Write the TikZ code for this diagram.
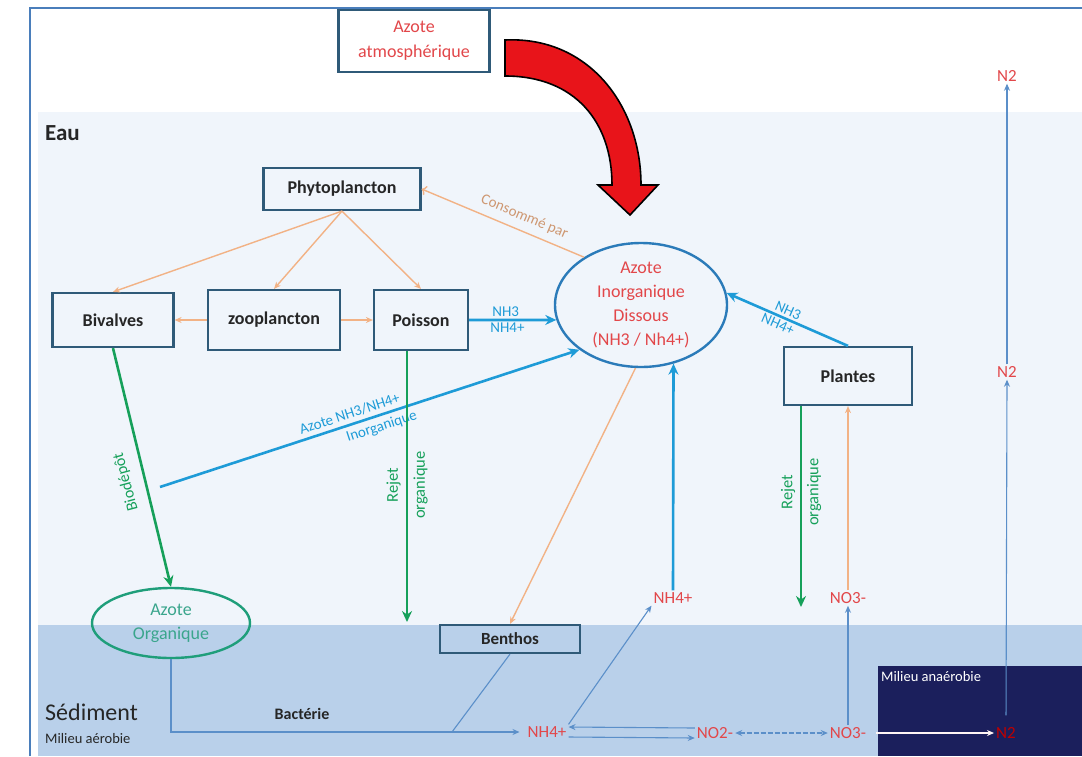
\documentclass[tikz,border=0pt]{standalone}
\usepackage{fontspec}
\setmainfont{Carlito}
\usetikzlibrary{arrows.meta,shapes.geometric}

\definecolor{frameblue}{HTML}{4A7EBB}
\definecolor{water}{HTML}{F0F5FB}
\definecolor{sediment}{HTML}{B9D0EA}
\definecolor{navy}{HTML}{1B1F5C}
\definecolor{boxline}{HTML}{2F5A78}
\definecolor{ntext}{HTML}{E2474A}
\definecolor{feed}{HTML}{F2B285}
\definecolor{ammonia}{HTML}{1E9BD7}
\definecolor{ring}{HTML}{2B7BB9}
\definecolor{organic}{HTML}{16A05A}
\definecolor{orgoval}{HTML}{1F9E7A}
\definecolor{orgtext}{HTML}{3AA58C}
\definecolor{thinblue}{HTML}{5B8FC9}
\definecolor{darktext}{HTML}{262626}
\definecolor{arrowred}{HTML}{E8141A}

\begin{document}
\begin{tikzpicture}[x=1pt,y=-1pt,
  box/.style={draw=boxline, line width=2.2pt, inner sep=2pt, text=darktext,
    font=\fontsize{18}{22}\selectfont\bfseries},
  ion/.style={text=ntext, font=\fontsize{17}{20}\selectfont, inner sep=2pt},
  lbl/.style={font=\fontsize{15}{18}\selectfont, inner sep=1pt},
  feedflow/.style={draw=feed, line width=1.4pt, -{Stealth[length=7pt,width=6pt]}},
  nhflow/.style={draw=ammonia, line width=2.6pt, -{Stealth[length=11pt,width=10pt]}},
  orgflow/.style={draw=organic, line width=2.6pt, -{Stealth[length=11pt,width=10pt]}},
  sedflow/.style={draw=thinblue, line width=1.1pt, -{Stealth[length=7pt,width=6pt]}},
]
\useasboundingbox (0,0) rectangle (1082,756);
\fill[white] (0,0) rectangle (1082,756);

% water column, sediment layer and anaerobic zone
\fill[water] (38,112) rectangle (1082,625);
\fill[sediment] (38,625) rectangle (1082,756);
\fill[navy] (878,666) rectangle (1082,756);
\draw[frameblue, line width=1.5pt] (30,756) -- (30,8) -- (1082,8);

% zone titles
\node[anchor=base west, inner sep=0pt, text=darktext, font=\fontsize{23}{26}\selectfont\bfseries] (eau) at (45,140) {Eau};
\node[anchor=base west, inner sep=0pt, text=darktext, font=\fontsize{24}{28}\selectfont] (sed) at (45,720) {Sédiment};
\node[anchor=base west, inner sep=0pt, text=darktext, font=\fontsize{14.5}{17}\selectfont] (aer) at (45,743) {Milieu aérobie};
\node[anchor=west, inner sep=0pt, text=white, font=\fontsize{14.5}{17}\selectfont] (anaer) at (881,677) {Milieu anaérobie};

% atmospheric input
\node[box, minimum width=151pt, minimum height=62pt, text=ntext, align=center,
  font=\fontsize{18}{25}\selectfont] (atm) at (414,41) {Azote\\atmosphérique};
\fill[arrowred, draw=black, line width=1.6pt, line join=miter]
  (505,40) .. controls (588,36) and (641,105) .. (641,185)
  -- (658,185) -- (630,215) -- (598,185) -- (612,185)
  .. controls (612,122) and (575,76) .. (505,76) -- cycle;

% organisms
\node[box, minimum width=157pt, minimum height=42pt] (phyto) at (342,189) {Phytoplancton};
\node[box, minimum width=121pt, minimum height=54pt] (biv) at (113,320) {Bivalves};
\node[box, minimum width=132pt, minimum height=60pt] (zoo) at (274,320) {zooplancton};
\node[box, minimum width=94pt, minimum height=60pt] (poisson) at (421,320) {Poisson};
\node[box, minimum width=128pt, minimum height=58pt] (plantes) at (848,376) {Plantes};
\node[box, minimum width=140pt, minimum height=28pt, font=\fontsize{17}{20}\selectfont\bfseries] (benthos) at (510,639) {Benthos};

% nitrogen pools
\node[ellipse, draw=ring, line width=2.4pt, minimum width=172pt, minimum height=124pt,
  inner sep=0pt, text=ntext, align=center, font=\fontsize{18}{24}\selectfont]
  (aid) at (641,305) {Azote\\Inorganique\\Dissous\\(NH3 / Nh4+)};
\node[ellipse, draw=orgoval, line width=2.4pt, minimum width=158pt, minimum height=70pt,
  inner sep=0pt, text=orgtext, align=center, font=\fontsize{18}{24}\selectfont]
  (aorg) at (171,623) {Azote\\Organique};

% ions
\node[ion] (nh4up) at (673,598) {NH4+};
\node[ion] (no3up) at (848,598) {NO3-};
\node[ion] (n2top) at (1007,76) {N2};
\node[ion] (n2mid) at (1007,372) {N2};
\node[ion] (nh4low) at (547,732) {NH4+};
\node[ion] (no2) at (715,733) {NO2-};
\node[ion] (no3low) at (848,733) {NO3-};
\node[ion, text=red!75!black] (n2low) at (1006,733) {N2};
\node[text=darktext, font=\fontsize{16}{19}\selectfont\bfseries] (bact) at (302,714) {Bactérie};

% food web
\draw[feedflow] (phyto.south) -- (biv.north);
\draw[feedflow] (phyto.south) -- (zoo.north);
\draw[feedflow] (phyto.south) -- (poisson.north);
\draw[feedflow] (zoo.west) -- (biv.east);
\draw[feedflow] (zoo.east) -- (poisson.west);
\draw[feedflow, <-] (phyto.east) -- node[lbl, text=feed!85!black, sloped, above=6pt, pos=0.6] {Consommé par} (aid.140);
\draw[feedflow] (aid.265) -- (benthos.north);
\draw[feedflow] (no3up.north) -- (plantes.south);

% dissolved ammonia fluxes
\draw[nhflow] (poisson.east) -- node[lbl, text=ammonia, above=1pt, pos=0.42] {NH3}
  node[lbl, text=ammonia, below=1pt, pos=0.44] {NH4+} (aid.190);
\draw[nhflow] (plantes.north) -- node[lbl, text=ammonia, sloped, above=1pt, pos=0.52] {NH3}
  node[lbl, text=ammonia, sloped, below=1pt, pos=0.55] {NH4+} (aid.8);
\coordinate (biodep) at (160,487);
\draw[nhflow] (biodep) -- node[lbl, text=ammonia, sloped, above=3pt, pos=0.46] {Azote NH3/NH4+}
  node[lbl, text=ammonia, sloped, below=3pt, pos=0.52] {Inorganique} (aid.216);
\draw[nhflow] (nh4up.north) -- (aid.299);

% organic deposits
\draw[orgflow] (biv.south) -- (aorg.north);
\node[lbl, text=organic, rotate=105, font=\fontsize{16}{19}\selectfont] (biodepot) at (126,482) {Biodépôt};
\coordinate (rejetP) at (407,622);
\draw[orgflow] (rejetP |- poisson.south) -- (rejetP);
\node[lbl, text=organic, rotate=90, align=center, font=\fontsize{16.5}{27}\selectfont] (rejetPlbl) at (407,485) {Rejet\\organique};
\coordinate (rejetPl) at (801,607);
\draw[orgflow] (rejetPl |- plantes.south) -- (rejetPl);
\node[lbl, text=organic, rotate=90, align=center, font=\fontsize{16.5}{26}\selectfont] (rejetPllbl) at (801,492) {Rejet\\organique};

% sediment transformations
\draw[sedflow, shorten >=6pt] (aorg.south) |- (nh4low.west);
\coordinate (bjoin) at (452,732);
\draw[draw=thinblue, line width=1.1pt] (benthos.south) -- (bjoin);
\draw[sedflow] (nh4low.north east) -- (nh4up.south west);
\draw[sedflow] ([yshift=5pt]no2.west) -- ([yshift=5pt]nh4low.east);
\draw[sedflow] ([yshift=-5pt]nh4low.east) -- ([yshift=-5pt]no2.west);
\draw[sedflow, {Stealth[length=7pt,width=6pt]}-{Stealth[length=7pt,width=6pt]}, dash pattern=on 5pt off 2pt] (no2.east) -- (no3low.west);
\draw[sedflow] (no3low.north) -- (no3up.south);
\draw[sedflow, draw=white!85!pink] (no3low.east) ++(8,0) -- (n2low.west);
\draw[sedflow, shorten <=10pt] (n2low.north) -- (n2mid.south);
\draw[sedflow] (n2mid.north) -- (n2top.south);
\end{tikzpicture}
\end{document}
